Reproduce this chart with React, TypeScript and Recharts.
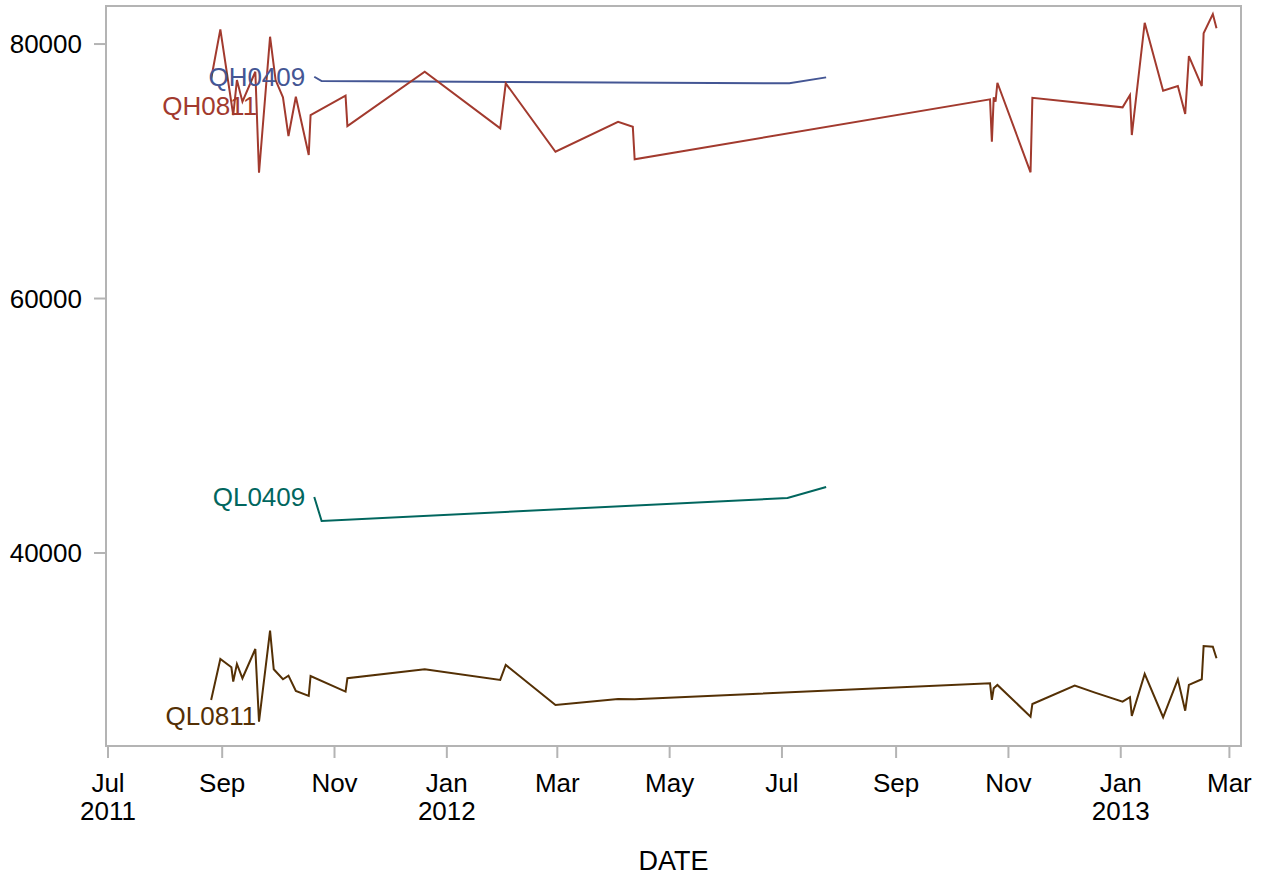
import { LineChart, Line, XAxis, YAxis, ReferenceArea } from 'recharts'

const DAY = 86400000
const T0 = Date.UTC(2011, 6, 1)
const xDomain = [T0 - 1.1 * DAY, T0 + 615.3 * DAY]
const yDomain = [24830, 82990]
const yTicks = [40000, 60000, 80000]

const xTickDates = ['2011-07-01', '2011-09-01', '2011-11-01', '2012-01-01', '2012-03-01', '2012-05-01',
  '2012-07-01', '2012-09-01', '2012-11-01', '2013-01-01', '2013-03-01']
const xTickMonths = ['Jul', 'Sep', 'Nov', 'Jan', 'Mar', 'May', 'Jul', 'Sep', 'Nov', 'Jan', 'Mar']
const xTickYears = ['2011', '', '', '2012', '', '', '', '', '', '2013', '']
const xTicks = xTickDates.map(d => Date.parse(d))

const qh0811Dates = ['2011-08-26', '2011-08-31', '2011-09-07', '2011-09-09', '2011-09-12', '2011-09-19',
  '2011-09-21', '2011-09-27', '2011-09-30', '2011-10-04', '2011-10-07', '2011-10-11', '2011-10-18',
  '2011-10-19', '2011-11-07', '2011-11-08', '2011-12-20', '2012-01-30', '2012-02-02', '2012-02-29',
  '2012-04-03', '2012-04-11', '2012-04-12', '2012-10-22', '2012-10-23', '2012-10-24', '2012-10-25',
  '2012-10-26', '2012-11-13', '2012-11-14', '2013-01-02', '2013-01-06', '2013-01-07', '2013-01-14',
  '2013-01-24', '2013-02-01', '2013-02-05', '2013-02-07', '2013-02-14', '2013-02-15', '2013-02-20',
  '2013-02-22']
const qh0811Values = [77250, 81155, 74420, 77170, 75466, 77823, 69886, 80574, 77171, 75811, 72770, 75858,
  71277, 74420, 75937, 73556, 77823, 73375, 76912, 71536, 73894, 73501, 70939, 75654, 72322, 75811, 75466,
  76959, 69918, 75780, 75026, 75992, 72849, 81674, 76330, 76700, 74499, 79057, 76700, 80841, 82358, 81234]

const ql0811Dates = ['2011-08-26', '2011-08-31', '2011-09-06', '2011-09-07', '2011-09-09', '2011-09-12',
  '2011-09-19', '2011-09-21', '2011-09-27', '2011-09-29', '2011-10-04', '2011-10-07', '2011-10-11',
  '2011-10-18', '2011-10-19', '2011-11-07', '2011-11-08', '2011-12-20', '2012-01-30', '2012-02-02',
  '2012-02-29', '2012-04-03', '2012-04-12', '2012-10-22', '2012-10-23', '2012-10-24', '2012-10-26',
  '2012-11-13', '2012-11-14', '2012-12-07', '2012-12-18', '2013-01-02', '2013-01-06', '2013-01-07',
  '2013-01-14', '2013-01-24', '2013-02-01', '2013-02-05', '2013-02-07', '2013-02-14', '2013-02-15',
  '2013-02-20', '2013-02-22']
const ql0811Values = [28448, 31670, 31018, 29886, 31277, 30153, 32456, 26743, 33894, 30861, 30075, 30358,
  29156, 28763, 30334, 29101, 30153, 30861, 30020, 31199, 28056, 28527, 28500, 29761, 28448, 29368, 29628,
  27136, 28134, 29573, 29023, 28316, 28661, 27191, 30491, 27089, 30075, 27607, 29628, 30075, 32692, 32637,
  31725]

const qh0409Dates = ['2011-10-21', '2011-10-25', '2012-07-05', '2012-07-25']
const qh0409Values = [77430, 77090, 76910, 77380]

const ql0409Dates = ['2011-10-21', '2011-10-25', '2012-07-04', '2012-07-25']
const ql0409Values = [44400, 42520, 44320, 45190]

const FONT = '"Liberation Sans", Arial, sans-serif'

const toData = (dates: string[], values: number[]) =>
  dates.map((d, i) => ({ t: Date.parse(d), v: values[i] }))

const series = [
  { name: 'QH0409', color: '#445694', data: toData(qh0409Dates, qh0409Values), dx: 9, dy: 0 },
  { name: 'QH0811', color: '#A23A2E', data: toData(qh0811Dates, qh0811Values), dx: -46, dy: 27 },
  { name: 'QL0409', color: '#01665E', data: toData(ql0409Dates, ql0409Values), dx: 9, dy: 0 },
  { name: 'QL0811', color: '#543005', data: toData(ql0811Dates, ql0811Values), dx: -45, dy: 16 },
]

function DateTick(props: any) {
  const { x, y, payload } = props
  const i = xTicks.indexOf(payload.value)
  return (
    <g>
      <text x={x} y={y + 32} textAnchor="middle" fontSize={26} fill="#000" fontFamily={FONT}>
        {xTickMonths[i]}
      </text>
      {xTickYears[i] && (
        <text x={x} y={y + 60} textAnchor="middle" fontSize={26} fill="#000" fontFamily={FONT}>
          {xTickYears[i]}
        </text>
      )}
    </g>
  )
}

function curveLabel(s: typeof series[number]) {
  return (p: any) => {
    if (p.index !== 0) return null
    return (
      <text x={p.x - s.dx} y={p.y + s.dy} textAnchor="end" dominantBaseline="central"
        fontSize={26} fill={s.color} fontFamily={FONT}>
        {s.name}
      </text>
    )
  }
}

export default function App() {
  return (
    <div style={{ width: 1265, height: 878, background: '#fff' }}>
      <style>{'body{margin:0}'}</style>
      <LineChart width={1265} height={878} margin={{ top: 6, right: 24, left: 0, bottom: 0 }}>
        <XAxis
          type="number"
          dataKey="t"
          domain={xDomain}
          ticks={xTicks}
          interval={0}
          allowDataOverflow
          axisLine={false}
          tickLine={{ stroke: '#b4b4b4', strokeWidth: 2 }}
          tickSize={12}
          height={132}
          tick={<DateTick />}
          label={{ value: 'DATE', position: 'insideBottom', offset: 8, fontSize: 27, fill: '#000', fontFamily: FONT }}
        />
        <YAxis
          type="number"
          domain={yDomain}
          ticks={yTicks}
          interval={0}
          allowDataOverflow
          axisLine={false}
          tickLine={{ stroke: '#b4b4b4', strokeWidth: 2 }}
          tickSize={12}
          tickMargin={12}
          width={106}
          tick={{ fontSize: 26, fill: '#000', fontFamily: FONT }}
        />
        <ReferenceArea x1={xDomain[0]} x2={xDomain[1]} y1={yDomain[0]} y2={yDomain[1]}
          fill="none" stroke="#b4b4b4" strokeWidth={2} />
        {series.map(s => (
          <Line
            key={s.name}
            data={s.data}
            dataKey="v"
            name={s.name}
            type="linear"
            stroke={s.color}
            strokeWidth={2}
            dot={false}
            activeDot={false}
            isAnimationActive={false}
            label={curveLabel(s)}
          />
        ))}
      </LineChart>
    </div>
  )
}
